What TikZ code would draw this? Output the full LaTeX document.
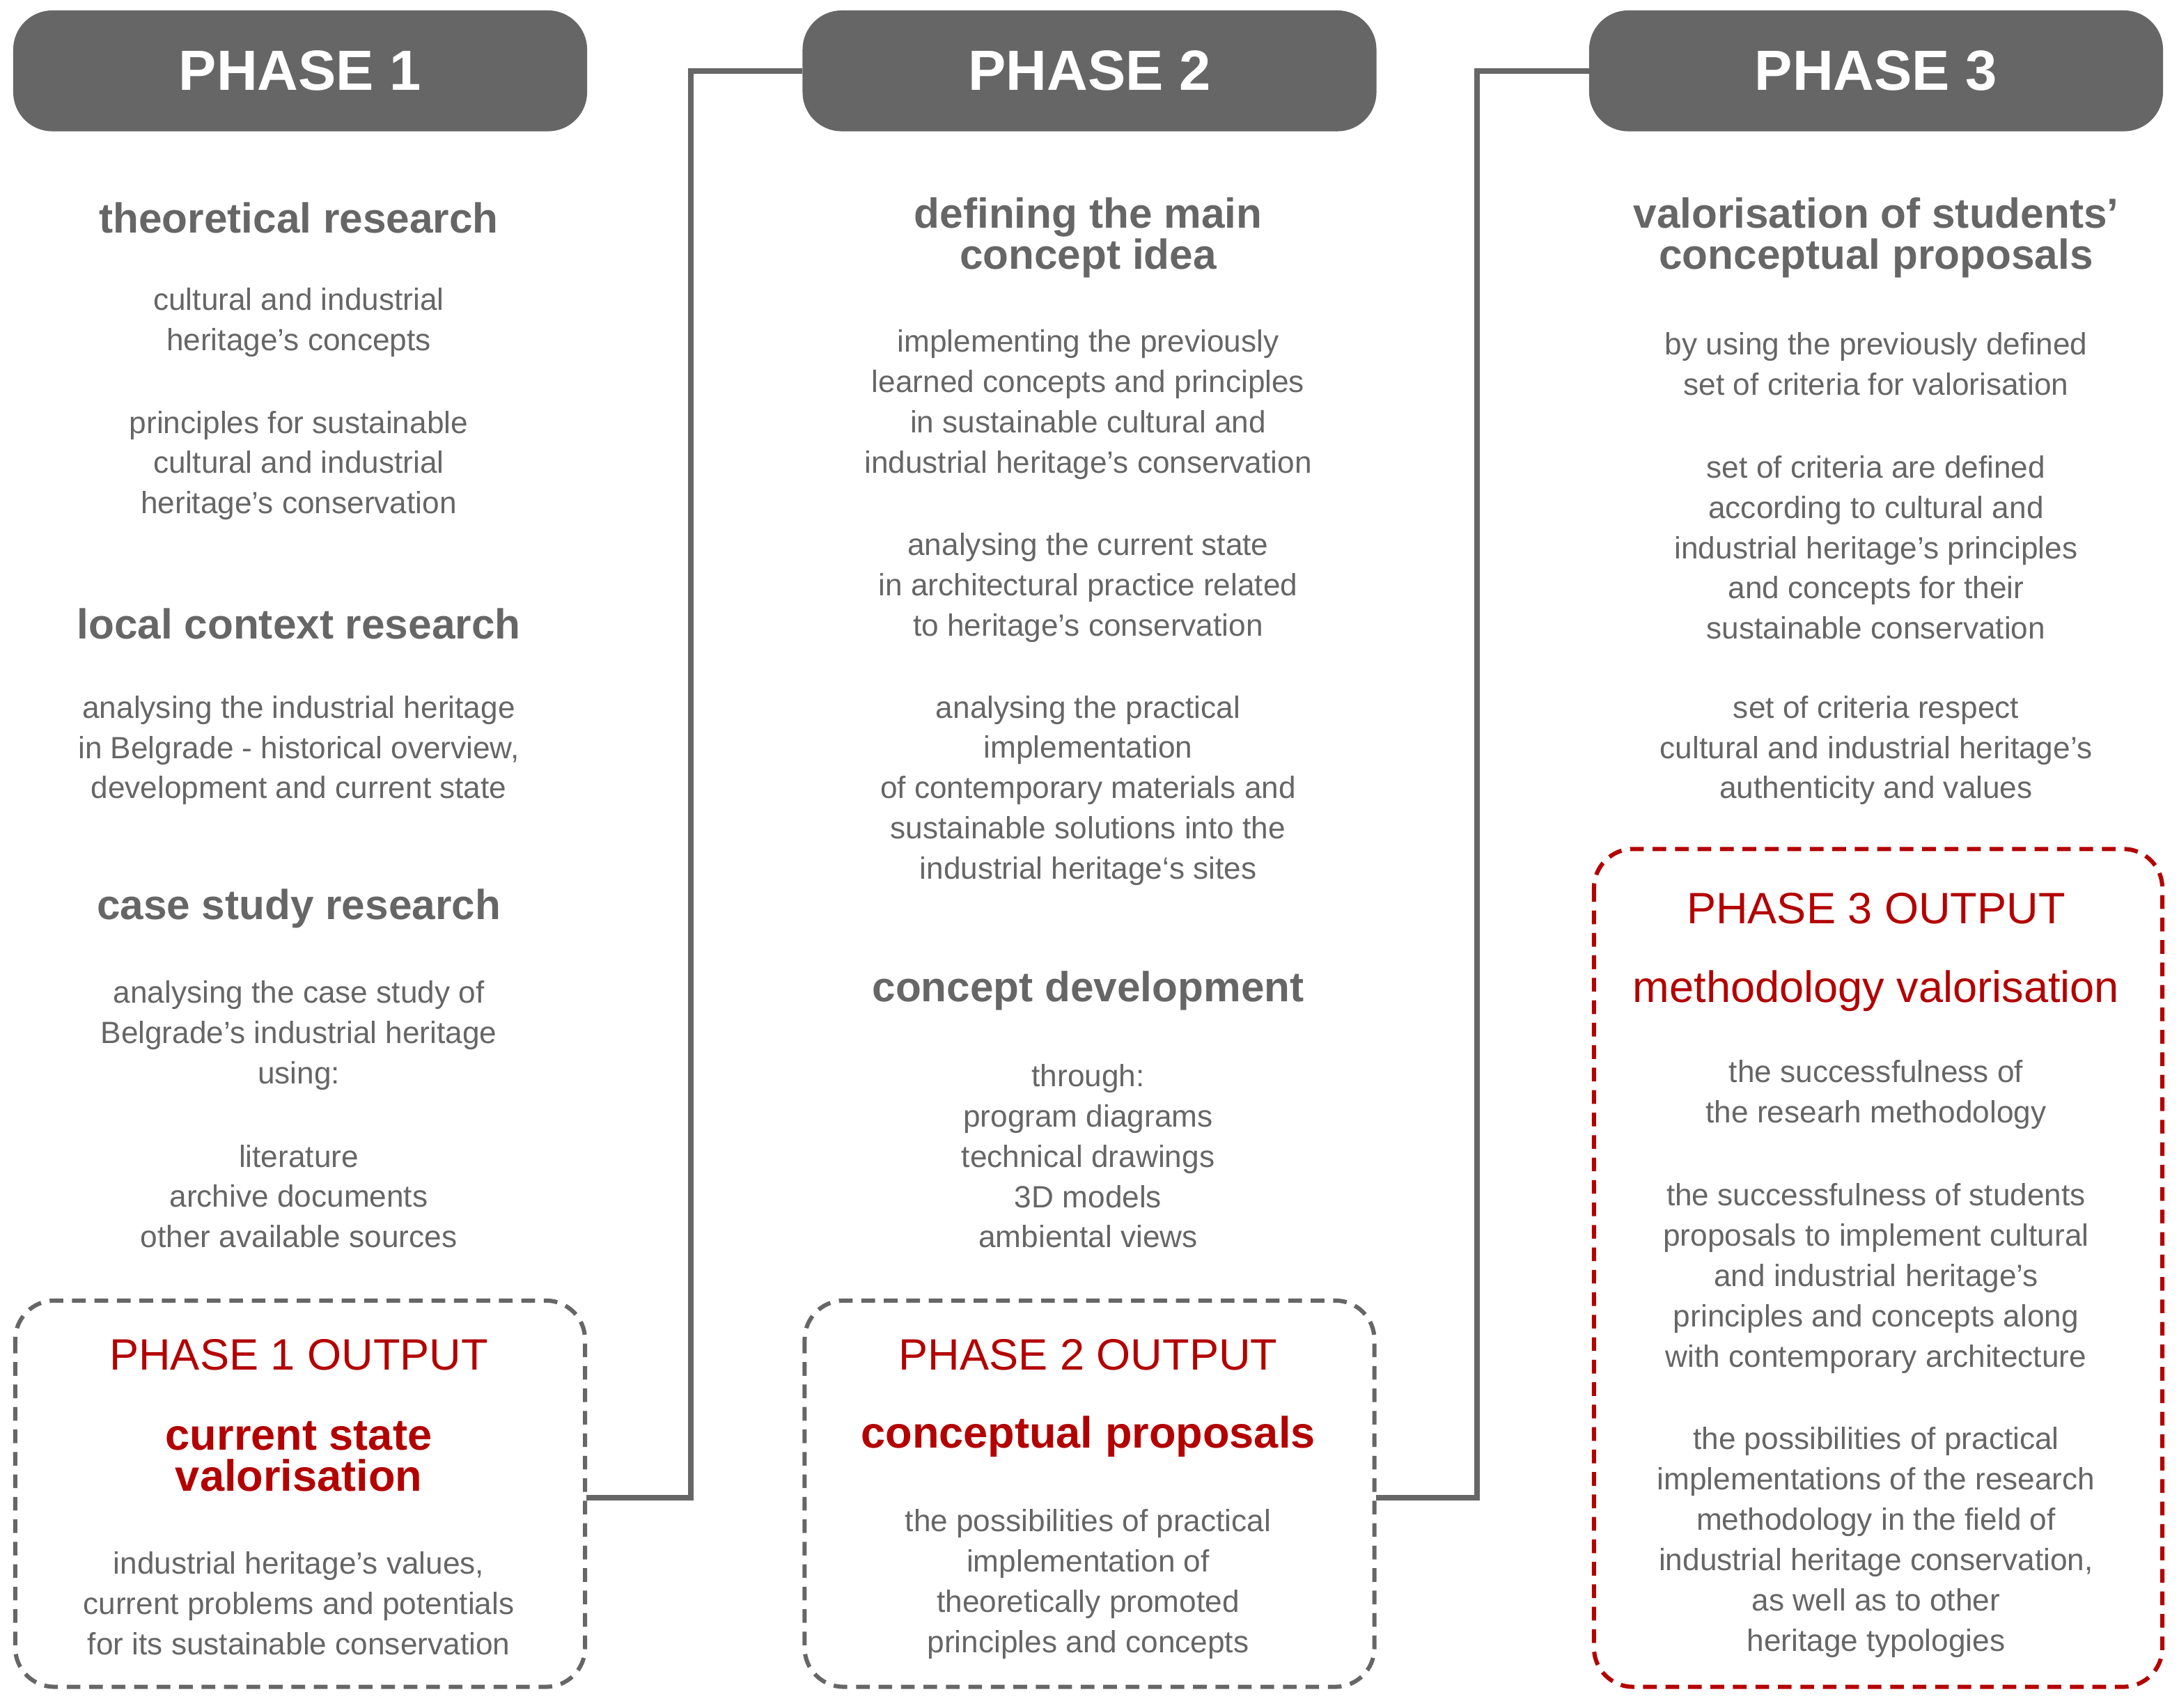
\documentclass[tikz,border=0pt]{standalone}
\usepackage{fontspec}
\setmainfont{Liberation Sans}
\begin{document}
\definecolor{gr}{HTML}{666666}
\definecolor{rd}{HTML}{B30000}
\begin{tikzpicture}[x=0.05cm,y=-0.05cm,
 hdr/.style={fill=gr,rounded corners=40pt,minimum width=413*1.4226pt,minimum height=87*1.4226pt,inner sep=0pt,text=white,font=\bfseries\fontsize{58}{60}\selectfont},
 ttl/.style={align=center,text=gr,font=\bfseries\fontsize{43}{42}\selectfont,inner sep=0pt},
 txt/.style={align=center,text=gr,font=\fontsize{31.5}{41.3}\selectfont,inner sep=0pt},
 rtl/.style={align=center,text=rd,font=\fontsize{45}{42}\selectfont,inner sep=0pt},
 rbt/.style={align=center,text=rd,font=\bfseries\fontsize{45}{42}\selectfont,inner sep=0pt},
 obox/.style={draw=gr,line width=4.3pt,dash pattern=on 14pt off 9pt,rounded corners=40pt},
 conn/.style={draw=gr,line width=5.7pt}]
\useasboundingbox (0,0) rectangle (1568,1229);
\node[hdr] (h1) at (216,51) {PHASE 1};
\node[hdr] (h2) at (784,51) {PHASE 2};
\node[hdr] (h3) at (1350,51) {PHASE 3};
\draw[obox] (11,936) rectangle (421,1214);
\draw[obox] (579,936) rectangle (989,1214);
\draw[obox,draw=rd] (1147,611) rectangle (1556,1214);
\coordinate (o1) at (422,1078);
\coordinate (o2) at (990,1078);
\draw[conn] (o1) -| (497,51) -- (h2.west);
\draw[conn] (o2) -| (1063,51) -- (h3.west);
% phase 1
\node[ttl] (t11) at (215,157) {theoretical research};
\node[txt] (b11) at (215,232) {cultural and industrial\\heritage’s concepts};
\node[txt] (b12) at (215,335) {principles for sustainable\\cultural and industrial\\heritage’s conservation};
\node[ttl] (t12) at (215,449) {local context research};
\node[txt] (b13) at (215,540) {analysing the industrial heritage\\in Belgrade - historical overview,\\development and current state};
\node[ttl] (t13) at (215,654) {case study research};
\node[txt] (b14) at (215,745) {analysing the case study of\\Belgrade’s industrial heritage\\using:};
\node[txt] (b15) at (215,861) {literature\\archive documents\\other available sources};
\node[rtl] (r11) at (215,975) {PHASE 1 OUTPUT};
\node[rbt] (r12) at (215,1048) {current state\\valorisation};
\node[txt] (b16) at (215,1154) {industrial heritage’s values,\\current problems and potentials\\for its sustainable conservation};
% phase 2
\node[ttl] (t21) at (783,171) {defining the main\\concept idea};
\node[txt] (b21) at (783,291) {implementing the previously\\learned concepts and principles\\in sustainable cultural and\\industrial heritage’s conservation};
\node[txt] (b22) at (783,423) {analysing the current state\\in architectural practice related\\to heritage’s conservation};
\node[txt] (b23) at (783,569) {analysing the practical\\implementation\\of contemporary materials and\\sustainable solutions into the\\industrial heritage‘s sites};
\node[ttl] (t22) at (783,713) {concept development};
\node[txt] (b24) at (783,832) {through:\\program diagrams\\technical drawings\\3D models\\ambiental views};
\node[rtl] (r21) at (783,975) {PHASE 2 OUTPUT};
\node[rbt] (r22) at (783,1034) {conceptual proposals};
\node[txt] (b25) at (783,1140) {the possibilities of practical\\implementation of\\theoretically promoted\\principles and concepts};
% phase 3
\node[ttl] (t31) at (1350,171) {valorisation of students’\\conceptual proposals};
\node[txt] (b31) at (1350,262) {by using the previously defined\\set of criteria for valorisation};
\node[txt] (b32) at (1350,394) {set of criteria are defined\\according to cultural and\\industrial heritage’s principles\\and concepts for their\\sustainable conservation};
\node[txt] (b33) at (1350,540) {set of criteria respect\\cultural and industrial heritage’s\\authenticity and values};
\node[rtl] (r31) at (1350,654) {PHASE 3 OUTPUT};
\node[rtl] (r32) at (1350,713) {methodology valorisation};
\node[txt] (b34) at (1350,788) {the successfulness of\\the researh methodology};
\node[txt] (b35) at (1350,920) {the successfulness of students\\proposals to implement cultural\\and industrial heritage’s\\principles and concepts along\\with contemporary architecture};
\node[txt] (b36) at (1350,1110) {the possibilities of practical\\implementations of the research\\methodology in the field of\\industrial heritage conservation,\\as well as to other\\heritage typologies};
\end{tikzpicture}
\end{document}
